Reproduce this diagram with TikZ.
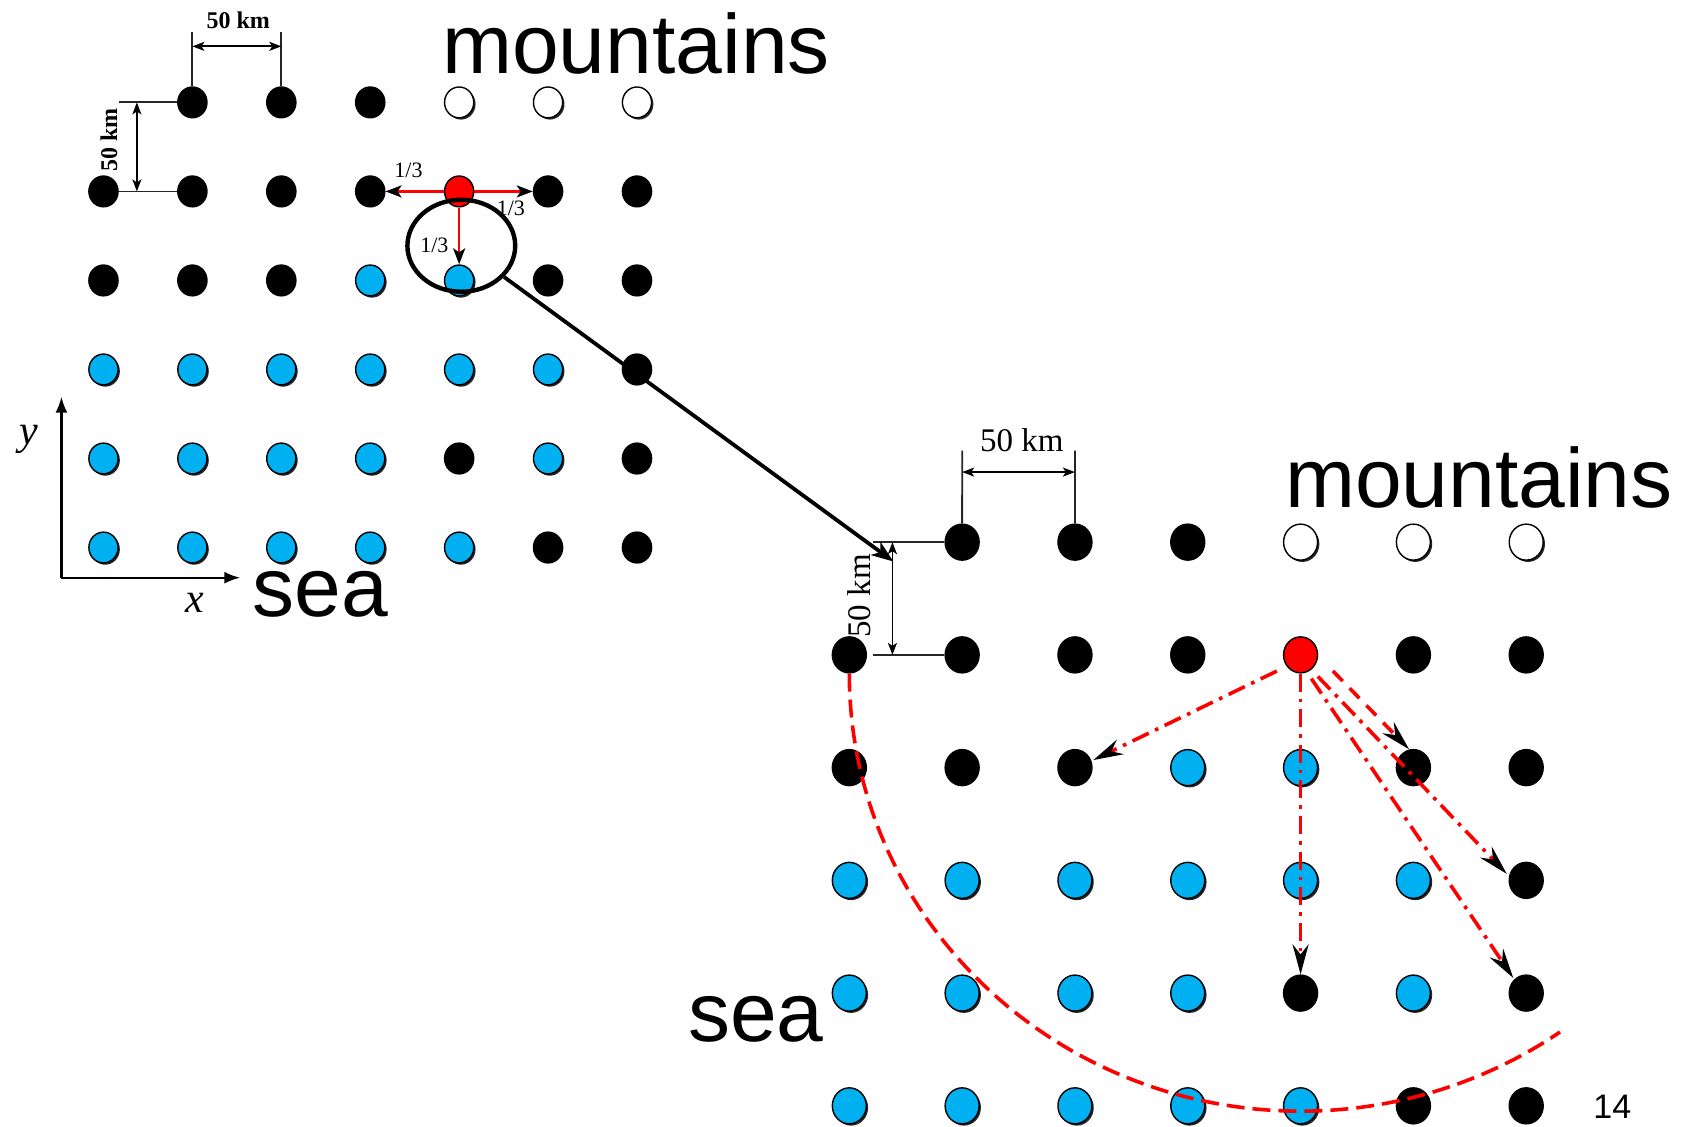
\documentclass[tikz,border=0pt]{standalone}
\usepackage{fontspec}
\setmainfont{Liberation Sans}
\newfontfamily\tms{Liberation Serif}
\usetikzlibrary{arrows.meta,shapes.geometric,shadows,calc}
\definecolor{seablue}{RGB}{0,176,240}
\begin{document}
\begin{tikzpicture}[x=0.5389pt,y=-0.5389pt,
  dotbase/.style={ellipse,inner sep=0pt,line width=0.7pt,draw=black},
  ldot/.style={dotbase,minimum width=14.6pt,minimum height=15.4pt},
  rdot/.style={dotbase,minimum width=17pt,minimum height=18pt},
  dk/.style={fill=black},
  db/.style={fill=seablue,drop shadow={shadow xshift=0.9pt,shadow yshift=-0.9pt,fill=black!85,opacity=1}},
  dw/.style={fill=white,drop shadow={shadow xshift=0.9pt,shadow yshift=-0.9pt,fill=black!85,opacity=1}},
  dr/.style={fill=red},
  dn/.style={draw=none,fill=none},
  bigtxt/.style={font=\fontsize{42}{42}\selectfont,inner sep=0pt,anchor=base west},
  dimline/.style={line width=0.9pt,draw=black!85},
  dimarr/.style={line width=0.9pt,{Stealth[length=6pt,width=4.5pt,inset=1.5pt]}-{Stealth[length=6pt,width=4.5pt,inset=1.5pt]}},
  redarr/.style={draw=red,line width=1.2pt,-{Stealth[length=8pt,width=6pt,inset=2pt,color=black]}},
  rdd/.style={draw=red,line width=1.8pt,dash pattern=on 9pt off 3.5pt on 1.8pt off 3.5pt,
     -{Stealth[length=15pt,width=8pt,inset=5pt,color=black]}},
  rdash/.style={draw=red,line width=1.8pt,dash pattern=on 7pt off 5pt,
     -{Stealth[length=15pt,width=8pt,inset=5pt,color=black]}},
  thirds/.style={font=\tms\fontsize{11}{11}\selectfont,inner sep=0pt},
]
\fill[white] (0,0) rectangle (1568,1045);
\useasboundingbox (0,0) rectangle (1568,1045);

% dot grids
\foreach \rowlist [count=\r] in {{dn,dk,dk,dk,dw,dw,dw},{dk,dk,dk,dk,dr,dk,dk},{dk,dk,dk,db,db,dk,dk},{db,db,db,db,db,db,dk},{db,db,db,db,dk,db,dk},{db,db,db,db,db,dk,dk}}{
  \foreach \t [count=\c] in \rowlist {
    \node[ldot,\t] (L-\r-\c) at ({96+82.5*(\c-1)},{95+82.6*(\r-1)}) {};
    \node[rdot,\t] (R-\r-\c) at ({788+104.67*(\c-1)},{503+104.6*(\r-1)}) {};
  }
}

% titles
\node[bigtxt] (mtL) at (410,68) {mountains};
\node[bigtxt] (mtR) at (1192,471) {mountains};
\node[bigtxt] (seaL) at (234,572) {sea};
\node[bigtxt] (seaR) at (638,966) {sea};
\node[font=\fontsize{17}{17}\selectfont,inner sep=0pt,anchor=base west] (pg) at (1478,1038) {14};

% left dimensions
\coordinate (lt1) at (178.5,30);
\coordinate (lt2) at (261,30);
\draw[dimline] (L-1-2.north) -- (lt1);
\draw[dimline] (L-1-3.north) -- (lt2);
\draw[dimarr] (178.5,43) -- (261,43);
\node[font=\tms\bfseries\fontsize{12}{12}\selectfont,inner sep=0pt] (dLt) at (221,19) {50 km};
\coordinate (lv1) at (110,95);
\coordinate (lv2) at (110,177.6);
\draw[dimline] (lv1) -- (L-1-2.west);
\draw[dimline] (lv2) -- (L-2-2.west);
\draw[dimarr] (127,95) -- (127,177.6);
\node[font=\tms\bfseries\fontsize{12}{12}\selectfont,inner sep=0pt,rotate=90] (dLv) at (101,130) {50 km};

% right dimensions
\coordinate (rt1) at (892.7,418);
\coordinate (rt2) at (997.3,418);
\draw[dimline] (R-1-2.north) -- (rt1);
\draw[dimline] (R-1-3.north) -- (rt2);
\draw[dimarr] (892.7,438) -- (997.3,438);
\node[font=\tms\fontsize{16.5}{16.5}\selectfont,inner sep=0pt] (dRt) at (948,408) {50 km};
\coordinate (rv1) at (810,503);
\coordinate (rv2) at (810,607.6);
\draw[dimline] (rv1) -- (R-1-2.west);
\draw[dimline] (rv2) -- (R-2-2.west);
\draw[dimarr] (828,503) -- (828,607.6);
\node[font=\tms\fontsize{16.5}{16.5}\selectfont,inner sep=0pt,rotate=90] (dRv) at (797,553) {50 km};

% left red arrows
\draw[redarr] (L-2-5.west) -- (L-2-4.east);
\draw[redarr] (L-2-5.east) -- (L-2-6.west);
\draw[redarr] (L-2-5.south) -- (L-3-5.north);
\node[thirds] (t1) at (379,158) {1/3};
\node[thirds] (t2) at (474,193) {1/3};
\node[thirds] (t3) at (403,228) {1/3};

% zoom ellipse and big arrow
\node[ellipse,draw,line width=2.2pt,minimum width=53.9pt,minimum height=46pt,inner sep=0pt] (zoomc) at (428,228) {};
\coordinate (bigtip) at (829,521);
\draw[line width=1.9pt,-{Stealth[length=11pt,width=8pt,inset=3pt]}] (zoomc) -- (bigtip);

% axes
\coordinate (O) at (57,536);
\coordinate (yend) at (57,368);
\coordinate (xend) at (223,536);
\draw[line width=1.2pt,-{Latex[length=8pt,width=6pt]}] (O) -- (yend);
\draw[line width=1.2pt,-{Latex[length=8pt,width=6pt]}] (O) -- (xend);
\node[font=\tms\itshape\fontsize{21}{21}\selectfont,inner sep=0pt] (ylab) at (27,408) {y};
\node[font=\tms\itshape\fontsize{21}{21}\selectfont,inner sep=0pt] (xlab) at (181,559) {x};

% right red arrows
\draw[rdd] ($(R-2-5)+(-22,15)$) -- ($(R-3-3)+(17,-7)$);
\draw[rdd] (R-2-5.south) -- (R-5-5.north);
\draw[rdash] ($(R-2-5)+(30,15)$) -- ($(R-3-6)+(-4,-17)$);
\draw[rdd] ($(R-2-5)+(16,20)$) -- ($(R-4-7)+(-18,-6)$);
\draw[rdd] ($(R-2-5)+(10,22)$) -- ($(R-5-7)+(-12,-14)$);

% red dashed arc
\draw[red,line width=1.8pt,dash pattern=on 9pt off 4pt] (R-2-1.south) arc[start angle=180,end angle=55,x radius=419,y radius=406];
\end{tikzpicture}
\end{document}
